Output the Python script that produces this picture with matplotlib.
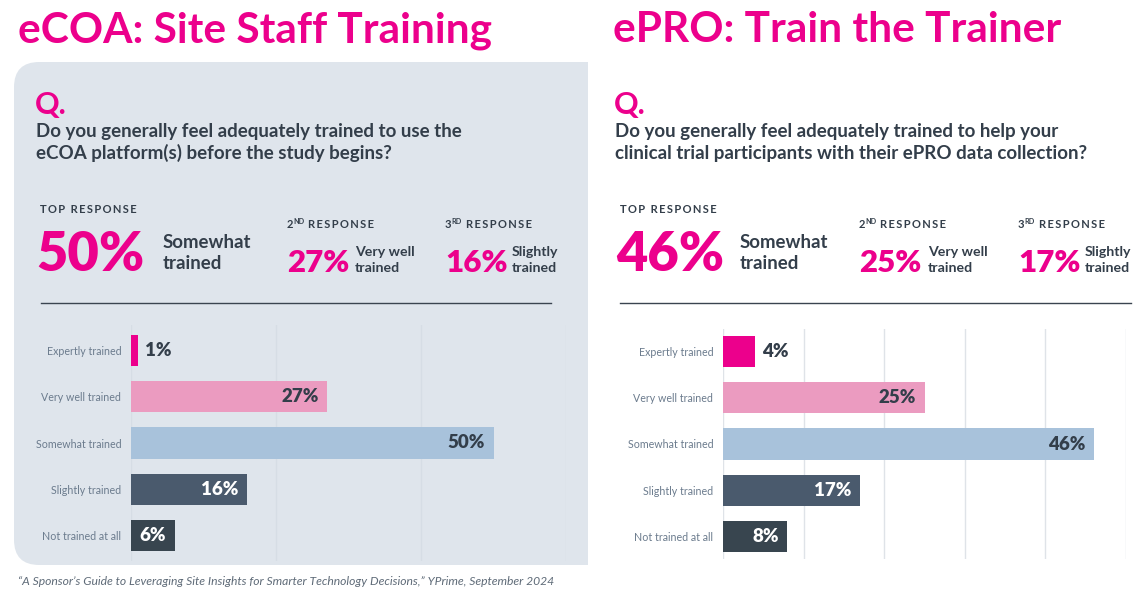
"""Two survey panels: eCOA site staff training vs ePRO train the trainer
"""
import matplotlib.pyplot as plt
from matplotlib.patches import FancyBboxPatch, Rectangle
from matplotlib.lines import Line2D

W, H = 1147, 592
PINK = "#ec008c"
DARK = "#333e4a"
GREY_TXT = "#6b7b8d"
PANEL = "#dfe5ec"

categories = ["Expertly trained", "Very well trained", "Somewhat trained",
              "Slightly trained", "Not trained at all"]
ecoa_values = [1, 27, 50, 16, 6]
epro_values = [4, 25, 46, 17, 8]
bar_colors = ["#ec008c", "#eb9bc0", "#a8c2db", "#4a5a6d", "#38454f"]
value_colors = [DARK, DARK, DARK, "white", "white"]

titles = ["eCOA: Site Staff Training", "ePRO: Train the Trainer"]
questions = [
    ["Do you generally feel adequately trained to use the",
     "eCOA platform(s) before the study begins?"],
    ["Do you generally feel adequately trained to help your",
     "clinical trial participants with their ePRO data collection?"],
]
source = ("\u201cA Sponsor\u2019s Guide to Leveraging Site Insights for Smarter "
          "Technology Decisions,\u201d YPrime, September 2024")

plt.rcParams["font.family"] = ["Lato", "DejaVu Sans"]

fig = plt.figure(figsize=(W / 100, H / 100), dpi=100)
renderer = fig.canvas.get_renderer()


def fx(x):
    return x / W


def fy(y):
    return 1 - y / H


def txt(x, y, s, **kw):
    kw.setdefault("va", "baseline")
    kw.setdefault("ha", "left")
    return fig.text(fx(x), fy(y), s, **kw)


def right_px(t):
    # right edge of a text in pixels
    return t.get_window_extent(renderer).x1


def spaced(s):
    # fake letter spacing with thin spaces
    return "\u2009".join(s)


# left panel background, rounded on the left side only
panel = FancyBboxPatch((fx(14), fy(565)), fx(620) - fx(14), fy(62) - fy(565),
                       boxstyle="round,pad=0,rounding_size=0.022",
                       transform=fig.transFigure, fc=PANEL, ec="none",
                       mutation_aspect=W / H, zorder=-3)
fig.patches.append(panel)
fig.patches.append(Rectangle((fx(588), 0), 1 - fx(588), 1, transform=fig.transFigure,
                             fc="white", ec="none", zorder=-2))

layouts = [
    dict(title_x=18, q_x=36, top_x=40, big_x=36, big_lbl=163, r2_x=287, r2_lbl=355,
         r3_x=445, r3_lbl=509, rule=(41, 551),
         ax_px=(131, 325, 566, 561), xmax=60, ticks=[20, 40, 60],
         grid_c="#d6dde5", values=ecoa_values),
    dict(title_x=613, q_x=615, top_x=620, big_x=616, big_lbl=740, r2_x=859, r2_lbl=928,
         r3_x=1018, r3_lbl=1080, rule=(620, 1131),
         ax_px=(723, 329, 1126, 559), xmax=50, ticks=[10, 20, 30, 40, 50],
         grid_c="#dfe3e8", values=epro_values),
]

for i, lay in enumerate(layouts):
    vals = lay["values"]
    txt(lay["title_x"], 42, titles[i], fontsize=30.5, fontweight="bold", color=PINK)
    txt(lay["q_x"] - 1, 114, "Q.", fontsize=22, fontweight="bold", color=PINK)
    for j, line in enumerate(questions[i]):
        txt(lay["q_x"], 137 + 22 * j, line, fontsize=13.5, fontweight="bold", color=DARK)

    # top three responses
    order = sorted(range(len(vals)), key=lambda k: -vals[k])[:3]
    top, second, third = order
    txt(lay["top_x"], 213, spaced("TOP RESPONSE"), fontsize=8, fontweight="bold",
        color=DARK)
    t = txt(lay["big_x"], 271, f"{vals[top]}%", fontsize=39, fontweight="heavy",
            color=PINK)
    xl = max(lay["big_lbl"], right_px(t) + 5)
    a, b = categories[top].rsplit(" ", 1)
    txt(xl, 248, a, fontsize=13.4, fontweight="bold", color=DARK)
    txt(xl, 269, b, fontsize=13.4, fontweight="bold", color=DARK)

    for idx, x0, lx, sup in [(second, lay["r2_x"], lay["r2_lbl"], ("2", "ND")),
                             (third, lay["r3_x"], lay["r3_lbl"], ("3", "RD"))]:
        txt(x0, 228, sup[0], fontsize=8, fontweight="bold", color=DARK)
        txt(x0 + 6, 224, sup[1], fontsize=5.2, fontweight="bold", color=DARK)
        txt(x0 + 21, 228, spaced("RESPONSE"), fontsize=8, fontweight="bold", color=DARK)
        t = txt(x0, 272, f"{vals[idx]}%", fontsize=22.5, fontweight="heavy", color=PINK)
        xl = max(lx, right_px(t) + 4)
        a, b = categories[idx].rsplit(" ", 1)
        txt(xl, 256, a, fontsize=10.2, fontweight="bold", color=DARK)
        txt(xl, 272, b, fontsize=10.2, fontweight="bold", color=DARK)

    r0, r1 = lay["rule"]
    fig.add_artist(Line2D([fx(r0), fx(r1)], [fy(303), fy(303)], transform=fig.transFigure,
                          color="#3a4450", lw=1))

    # bar chart
    x0, y0, x1, y1 = lay["ax_px"]
    ax = fig.add_axes([fx(x0), fy(y1), fx(x1) - fx(x0), fy(y0) - fy(y1)])
    ax.patch.set_alpha(0)
    ypos = list(range(len(categories)))
    ax.barh(ypos, vals, height=0.67, color=bar_colors, zorder=2)
    span = (y1 - y0) / 46.3
    pad = (span - (len(categories) - 1)) / 2
    ax.set_ylim(len(categories) - 1 + pad, -pad)
    ax.set_xlim(0, lay["xmax"])
    ax.set_xticks(lay["ticks"])
    ax.xaxis.grid(True, color=lay["grid_c"], lw=1, zorder=0)
    ax.tick_params(axis="x", length=0, labelbottom=False)
    ax.tick_params(axis="y", length=0, pad=7)
    ax.set_yticks(ypos)
    ax.set_yticklabels(categories, fontsize=7.7, color=GREY_TXT)
    for s in ax.spines.values():
        s.set_visible(False)
    ax.axvline(0, color=lay["grid_c"], lw=1, zorder=0)
    for k, v in enumerate(vals):
        if k == 0:
            ax.annotate(f"{v}%", (v, k), xytext=(5, 0), textcoords="offset points",
                        va="center", ha="left", fontsize=13.5, fontweight="heavy",
                        color=DARK)
        else:
            ax.annotate(f"{v}%", (v, k), xytext=(-6, 0), textcoords="offset points",
                        va="center", ha="right", fontsize=13.5, fontweight="heavy",
                        color=value_colors[k])

txt(18, 585, source, fontsize=8.75, style="italic", color="#5f6b78")

fig.savefig("out.png", dpi=100)
